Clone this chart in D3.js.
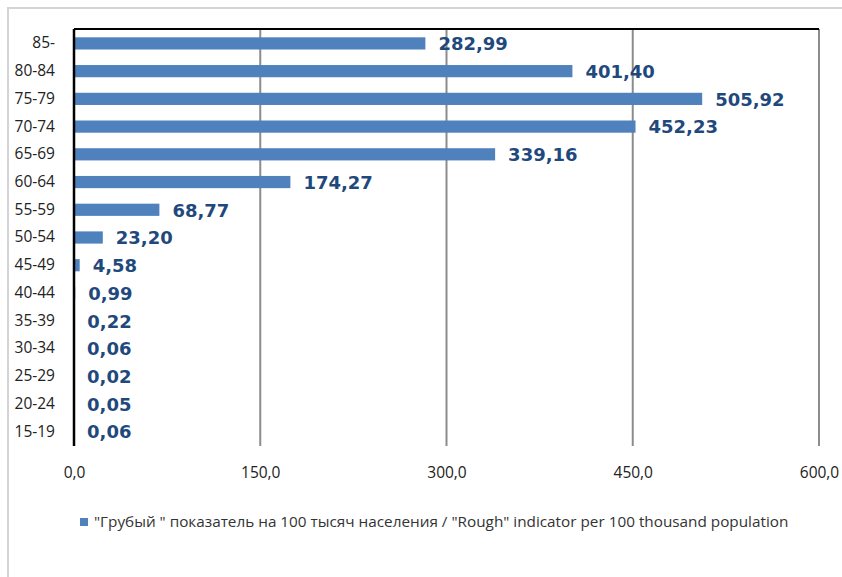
<!DOCTYPE html>
<html>
<head>
<meta charset="utf-8">
<script src="https://cdn.jsdelivr.net/npm/d3@7"></script>
<style>
  body { margin: 0; background: #fff; }
  svg { display: block; }
</style>
</head>
<body>
<svg id="chart"></svg>
<script>
const width = 842;
const height = 577;

// Age groups, top to bottom
const ageGroups = ['85-', '80-84', '75-79', '70-74', '65-69', '60-64', '55-59',
    '50-54', '45-49', '40-44', '35-39', '30-34', '25-29', '20-24', '15-19'];

// "Rough" indicator per 100 thousand population
const rates = [282.99, 401.40, 505.92, 452.23, 339.16, 174.27, 68.77,
    23.20, 4.58, 0.99, 0.22, 0.06, 0.02, 0.05, 0.06];

const xTicks = [0, 150, 300, 450, 600];
const legendLabel = '"Грубый " показатель на 100 тысяч населения / "Rough" indicator per 100 thousand population';

const barColor = '#4f81bd';
const labelColor = '#1f497d';

const plot = {left: 74, right: 819, top: 29, bottom: 446};

const comma = (v, d) => v.toFixed(d).replace('.', ',');

const svg = d3.select("#chart")
    .attr("width", width)
    .attr("height", height);

// outer frame
svg.append("path")
    .attr("d", `M8,${height} V8 H${width}`)
    .attr("fill", "none")
    .attr("stroke", "#d4d4d4")
    .attr("stroke-width", 2);

const x = d3.scaleLinear()
    .domain([0, 600])
    .range([plot.left, plot.right]);

const y = d3.scaleBand()
    .domain(ageGroups)
    .range([plot.top, plot.bottom])
    .paddingInner(0.56)
    .paddingOuter(0.3);

// gridlines
svg.append("g")
    .selectAll("line")
    .data(xTicks.slice(1))
    .join("line")
    .attr("x1", d => x(d))
    .attr("x2", d => x(d))
    .attr("y1", plot.top)
    .attr("y2", plot.bottom)
    .attr("stroke", "#8c8c8c")
    .attr("stroke-width", 2);

// top border of plot area
svg.append("line")
    .attr("x1", plot.left)
    .attr("x2", plot.right)
    .attr("y1", plot.top)
    .attr("y2", plot.top)
    .attr("stroke", "#000")
    .attr("stroke-width", 2);

// bars
svg.append("g")
    .selectAll("rect")
    .data(rates)
    .join("rect")
    .attr("x", x(0))
    .attr("y", (d, i) => y(ageGroups[i]))
    .attr("width", d => x(d) - x(0))
    .attr("height", y.bandwidth())
    .attr("fill", barColor);

// value labels
svg.append("g")
    .selectAll("text")
    .data(rates)
    .join("text")
    .attr("x", d => x(d) + 13)
    .attr("y", (d, i) => y(ageGroups[i]) + y.bandwidth() / 2)
    .attr("dy", "0.38em")
    .style("font-family", "'DejaVu Sans', Verdana, sans-serif")
    .style("font-weight", "bold")
    .style("font-size", "18px")
    .style("fill", labelColor)
    .text(d => comma(d, 2));

// left axis
const yAxis = svg.append("g")
    .attr("transform", `translate(${plot.left},0)`)
    .call(d3.axisLeft(y).tickSize(0).tickPadding(19));
yAxis.select(".domain")
    .attr("stroke", "#000")
    .attr("stroke-width", 2.5)
    .attr("d", `M0,${plot.top}V${plot.bottom}`);
yAxis.selectAll("text")
    .style("font-family", "'Open Sans', sans-serif")
    .style("font-size", "15.5px")
    .style("fill", "#222");

// bottom axis (labels only)
const xAxis = svg.append("g")
    .attr("transform", `translate(0,${plot.bottom})`)
    .call(d3.axisBottom(x).tickValues(xTicks).tickSize(0).tickPadding(21)
        .tickFormat(d => comma(d, 1)));
xAxis.select(".domain").remove();
xAxis.selectAll("text")
    .style("font-family", "'Open Sans', sans-serif")
    .style("font-size", "15.5px")
    .style("fill", "#222");

// legend
const legend = svg.append("g")
    .attr("transform", "translate(80,522)");
legend.append("rect")
    .attr("x", 0)
    .attr("y", -4)
    .attr("width", 8)
    .attr("height", 8)
    .attr("fill", barColor);
legend.append("text")
    .attr("x", 14)
    .attr("dy", "0.35em")
    .style("font-family", "'Open Sans', sans-serif")
    .style("font-size", "15.3px")
    .style("fill", "#333")
    .text(legendLabel);
</script>
</body>
</html>
